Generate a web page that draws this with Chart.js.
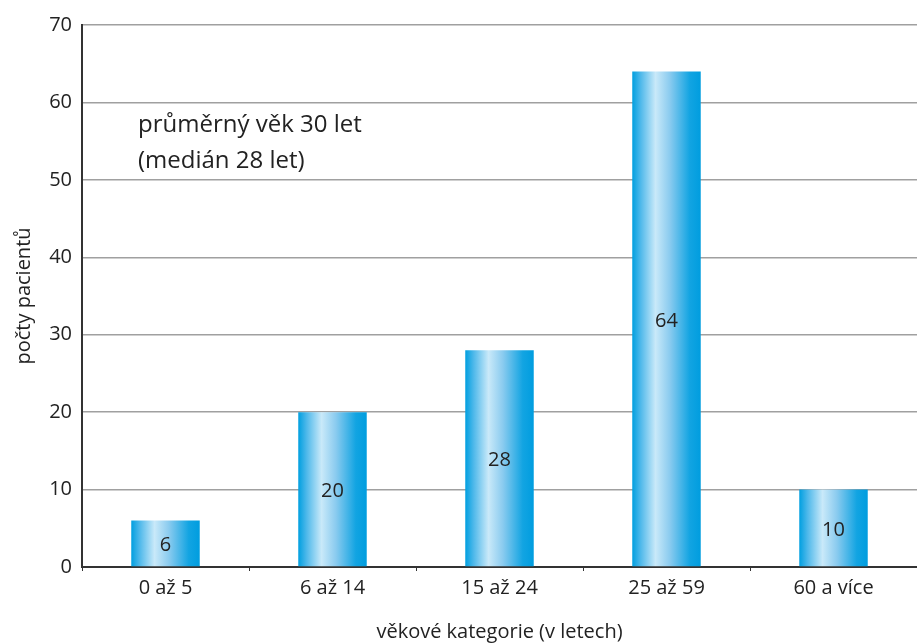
<!DOCTYPE html>
<html lang="cs">
<head>
<meta charset="utf-8">
<script src="https://cdn.jsdelivr.net/npm/chart.js@4"></script>
<style>
    html, body { margin: 0; padding: 0; background: #fff; }
    #wrap { width: 917px; height: 644px; }
</style>
</head>
<body>
<div id="wrap"><canvas id="ageChart" width="917" height="644"></canvas></div>
<script>
const categories = ['0 až 5', '6 až 14', '15 až 24', '25 až 59', '60 a více'];
const patients = [6, 20, 28, 64, 10];
const yTicks = [0, 10, 20, 30, 40, 50, 60, 70];
const noteLines = ['průměrný věk 30 let', '(medián 28 let)'];

const FONT = "'Open Sans', 'Noto Sans', sans-serif";
const BAR_PCT = 0.41;

// horizontal "cylinder" shading for each bar
function barGradient(ctx) {
    const chart = ctx.chart;
    const x = chart.scales.x;
    if (!x || x.width === undefined) return '#009fe0';
    const cx = x.getPixelForValue(ctx.dataIndex);
    const w = (x.width / categories.length) * BAR_PCT;
    const g = chart.ctx.createLinearGradient(cx - w / 2, 0, cx + w / 2, 0);
    g.addColorStop(0, '#009fe0');
    g.addColorStop(0.12, '#4db8ea');
    g.addColorStop(0.34, '#c9e9f9');
    g.addColorStop(0.55, '#8acbef');
    g.addColorStop(0.84, '#12a4e2');
    g.addColorStop(1, '#009ddf');
    return g;
}

// value inside each bar + the note in the upper left
const labelsPlugin = {
    id: 'labels',
    afterDatasetsDraw(chart) {
        const c = chart.ctx;
        const meta = chart.getDatasetMeta(0);
        c.save();
        c.font = '20px ' + FONT;
        c.fillStyle = '#222';
        c.textAlign = 'center';
        c.textBaseline = 'middle';
        meta.data.forEach((bar, i) => {
            c.fillText(String(patients[i]), bar.x, (bar.y + bar.base) / 2 + 2);
        });
        c.font = '24px ' + FONT;
        c.textAlign = 'left';
        const area = chart.chartArea;
        noteLines.forEach((t, i) => {
            c.fillText(t, area.left + 56, area.top + 100 + i * 36);
        });
        c.restore();
    }
};

new Chart(document.getElementById('ageChart'), {
    type: 'bar',
    data: {
        labels: categories,
        datasets: [{
            data: patients,
            backgroundColor: barGradient,
            borderWidth: 0,
            barPercentage: BAR_PCT,
            categoryPercentage: 1
        }]
    },
    options: {
        responsive: false,
        animation: false,
        layout: { padding: { top: 25, right: 0, bottom: 0, left: 0 } },
        plugins: {
            legend: { display: false },
            tooltip: { enabled: false }
        },
        scales: {
            x: {
                grid: {
                    display: true,
                    drawOnChartArea: false,
                    drawTicks: true,
                    tickLength: 4,
                    offset: true,
                    color: '#333'
                },
                border: { color: '#333', width: 2 },
                ticks: { color: '#222', font: { family: FONT, size: 20 }, padding: 5 },
                title: {
                    display: true,
                    text: 'věkové kategorie (v letech)',
                    color: '#222',
                    font: { family: FONT, size: 20 },
                    padding: { top: 8, bottom: 0 }
                },
                afterFit(scale) { scale.height = 77; }
            },
            y: {
                min: 0,
                max: 70,
                afterBuildTicks(scale) { scale.ticks = yTicks.map(v => ({ value: v })); },
                grid: { color: '#a0a0a0', lineWidth: 1.5, drawTicks: false },
                border: { color: '#333', width: 2 },
                ticks: { color: '#222', font: { family: FONT, size: 20 }, padding: 10 },
                title: {
                    display: true,
                    text: 'počty pacientů',
                    color: '#222',
                    font: { family: FONT, size: 20 },
                    padding: { top: 12, bottom: 0 }
                },
                afterFit(scale) { scale.width = 82; }
            }
        }
    },
    plugins: [labelsPlugin]
});
</script>
</body>
</html>
